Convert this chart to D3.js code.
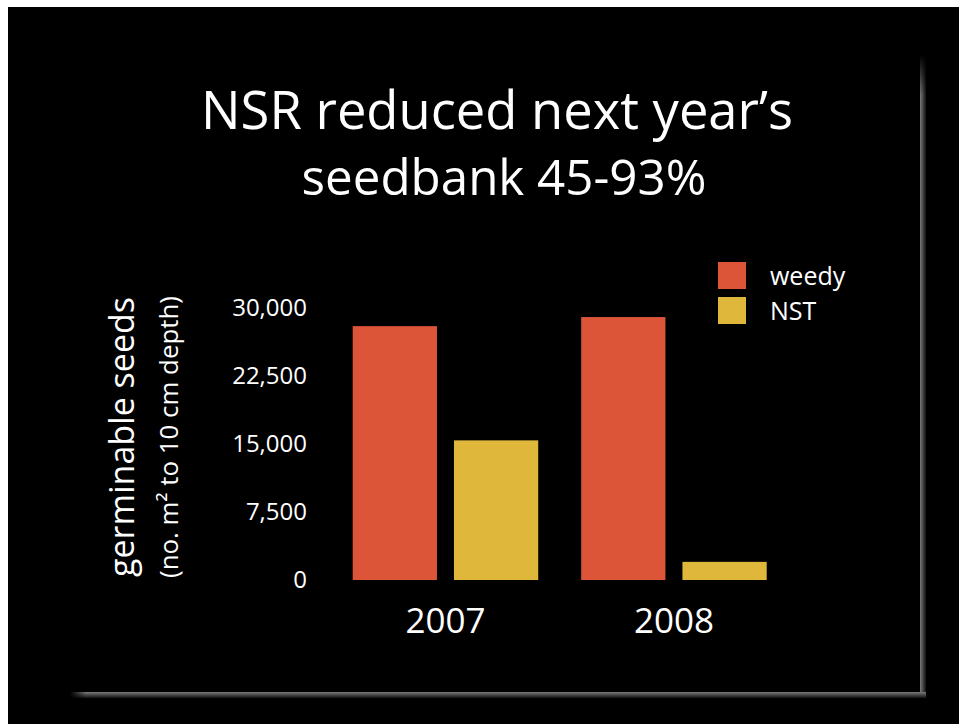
<!DOCTYPE html>
<html>
<head>
<meta charset="utf-8">
<script src="https://cdn.jsdelivr.net/npm/d3@7"></script>
<style>
  html, body { margin: 0; padding: 0; background: #000; overflow: hidden; }
  svg { display: block; }
  text { font-family: "Open Sans", Lato, sans-serif; fill: #fff; }
</style>
</head>
<body>
<script>
// Seedbank data: germinable seeds per m² (to 10 cm depth)
const years = ["2007", "2008"];
const treatments = ["weedy", "NST"];
const weedyValues = [28000, 29000];
const nstValues = [15400, 2000];
const yTicks = [0, 7500, 15000, 22500, 30000];
const colors = ["#dd5538", "#dfb83b"];

const W = 959, H = 724;
const svg = d3.select("body").append("svg").attr("width", W).attr("height", H);

// scale a text's font size so that it spans the given width
function fitWidth(sel, target) {
  sel.each(function () {
    const el = d3.select(this);
    const fs = parseFloat(el.attr("font-size")) || 20;
    const len = this.getComputedTextLength();
    if (len > 0) el.attr("font-size", fs * target / len);
  });
}

// page frame: black slide, white edge top/left, soft grey shadow right and bottom
svg.append("rect").attr("width", W).attr("height", H).attr("fill", "#000");
svg.append("rect").attr("x", 0).attr("y", 0).attr("width", W).attr("height", 7).attr("fill", "#fff");
svg.append("rect").attr("x", 0).attr("y", 0).attr("width", 8).attr("height", H).attr("fill", "#fff");

const defs = svg.append("defs");
const gv = defs.append("linearGradient").attr("id", "shadowV").attr("x1", 0).attr("x2", 1).attr("y1", 0).attr("y2", 0);
gv.append("stop").attr("offset", "0%").attr("stop-color", "#7a7a7a");
gv.append("stop").attr("offset", "100%").attr("stop-color", "#111");
const gh = defs.append("linearGradient").attr("id", "shadowH").attr("x1", 0).attr("x2", 0).attr("y1", 0).attr("y2", 1);
gh.append("stop").attr("offset", "0%").attr("stop-color", "#7a7a7a");
gh.append("stop").attr("offset", "100%").attr("stop-color", "#111");
const gvFade = defs.append("linearGradient").attr("id", "fadeTop").attr("x1", 0).attr("x2", 0).attr("y1", 0).attr("y2", 1);
gvFade.append("stop").attr("offset", "0%").attr("stop-color", "#000").attr("stop-opacity", 1);
gvFade.append("stop").attr("offset", "100%").attr("stop-color", "#000").attr("stop-opacity", 0);
const ghFade = defs.append("linearGradient").attr("id", "fadeLeft").attr("x1", 0).attr("x2", 1).attr("y1", 0).attr("y2", 0);
ghFade.append("stop").attr("offset", "0%").attr("stop-color", "#000").attr("stop-opacity", 1);
ghFade.append("stop").attr("offset", "100%").attr("stop-color", "#000").attr("stop-opacity", 0);

svg.append("rect").attr("x", 920).attr("y", 55).attr("width", 6).attr("height", 643).attr("fill", "url(#shadowV)");
svg.append("rect").attr("x", 70).attr("y", 692).attr("width", 856).attr("height", 6).attr("fill", "url(#shadowH)");
svg.append("rect").attr("x", 918).attr("y", 55).attr("width", 10).attr("height", 40).attr("fill", "url(#fadeTop)");
svg.append("rect").attr("x", 70).attr("y", 690).attr("width", 16).attr("height", 10).attr("fill", "url(#fadeLeft)");

// title
const t1 = svg.append("text").attr("text-anchor", "middle").attr("font-size", 48)
  .attr("x", 497).attr("y", 129).text("NSR reduced next year\u2019s");
const t2 = svg.append("text").attr("text-anchor", "middle").attr("font-size", 48)
  .attr("x", 504).attr("y", 195).text("seedbank 45-93%");
fitWidth(t1, 592);
fitWidth(t2, 405);

// scales
const x0 = d3.scaleBand().domain(years).range([352.7, 766.7]).paddingInner(0.188).paddingOuter(0);
const x1 = d3.scaleBand().domain(treatments).range([0, x0.bandwidth()]).paddingInner(0.168);
const y = d3.scaleLinear().domain([0, 30000]).range([580, 308]);
const color = d3.scaleOrdinal().domain(treatments).range(colors);

// y axis: labels only
const yAxis = svg.append("g").attr("transform", "translate(307,0)")
  .call(d3.axisLeft(y).tickValues(yTicks).tickFormat(d3.format(",")).tickSize(0).tickPadding(0));
yAxis.select(".domain").remove();
yAxis.selectAll("text").attr("font-family", "\"Open Sans\", sans-serif").attr("font-size", 24).attr("fill", "#fff");

// x axis: year labels
const xAxis = svg.append("g").attr("transform", "translate(0,580)")
  .call(d3.axisBottom(x0).tickSize(0).tickPadding(28));
xAxis.select(".domain").remove();
xAxis.selectAll("text").attr("font-family", "\"Open Sans\", sans-serif").attr("font-size", 35).attr("fill", "#fff");

// bars
const rows = years.map((yr, i) => ({ year: yr, values: [
  { key: "weedy", value: weedyValues[i] },
  { key: "NST", value: nstValues[i] }
]}));
svg.append("g").selectAll("g").data(rows).join("g")
  .attr("transform", d => `translate(${x0(d.year)},0)`)
  .selectAll("rect").data(d => d.values).join("rect")
  .attr("x", d => x1(d.key))
  .attr("width", x1.bandwidth())
  .attr("y", d => y(d.value))
  .attr("height", d => y(0) - y(d.value))
  .attr("fill", d => color(d.key));

// y axis title, two lines
const yt = svg.append("text").attr("text-anchor", "middle").attr("font-size", 30)
  .attr("transform", "translate(134,437) rotate(-90)").text("germinable seeds");
fitWidth(yt, 280);
const yt2 = svg.append("text").attr("text-anchor", "middle").attr("font-size", 20)
  .attr("transform", "translate(178,437) rotate(-90)")
  .text("(no. m\u00b2 to 10 cm depth)");
fitWidth(yt2, 282);

// legend
const legend = svg.append("g").selectAll("g").data(treatments).join("g")
  .attr("transform", (d, i) => `translate(718,${262 + i * 35})`);
legend.append("rect").attr("width", 28).attr("height", 27).attr("fill", d => color(d));
legend.append("text").attr("x", 52).attr("y", 23).attr("font-size", 25).text(d => d);
</script>
</body>
</html>
